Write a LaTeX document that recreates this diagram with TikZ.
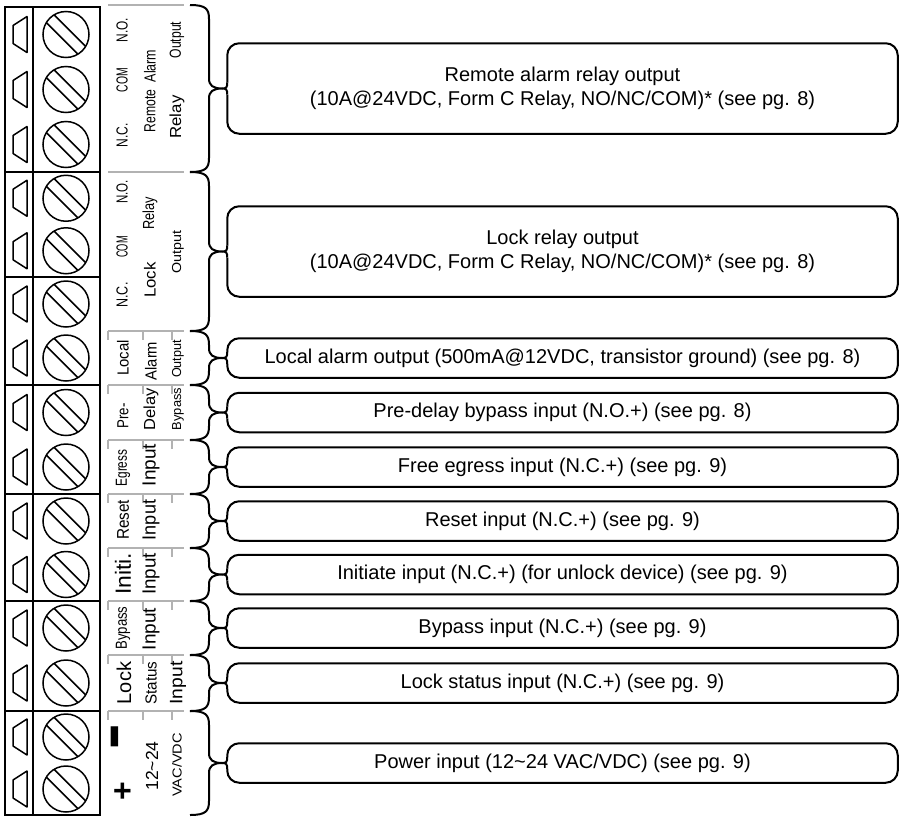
\documentclass[tikz,border=0pt]{standalone}
\usepackage{fontspec}
\setmainfont{Liberation Sans}

\begin{document}
\begin{tikzpicture}[
  x = 1pt, y = -1pt,
  line width = 1.5pt,
  lbl/.style = {rotate=90, inner sep=0pt, font=\fontsize{#1}{#1}\selectfont},
  lbl/.default = 16,
  desc/.style = {minimum width=669pt, inner sep=0pt, align=center,
    font=\fontsize{20}{24}\selectfont},
  outline/.style = {line width=2pt, rounded corners=12pt},
  graysep/.style = {gray!60, line width=1.2pt}]
\useasboundingbox (0,0) rectangle (905,817);

% terminal block
\draw[line width=2pt] (5,7) rectangle (100,815);
\draw (33,7) -- (33,815);
\foreach \y in {172,277,385,494,601,711}
  \draw[line width=2pt] (5,\y) -- (100,\y);
\foreach \c in {34.5,89.5,144.5,198.25,250.75,304,358,412.5,467,521,574.5,628,683,737,789} {
  \draw[line join=round] (27,\c-18) -- (13,\c-9) -- (13,\c+9) -- (27,\c+18) -- cycle;
  \draw (66,\c) circle (23pt);
  \draw (66,\c) ++(19.67,11.92) -- ++(-31.59,-31.59);
  \draw (66,\c) ++(11.92,19.67) -- ++(-31.59,-31.59);
}

% label column
\foreach \y in {5,172,331,385,440,494,548,601,655,711}
  \draw[graysep] (108,\y) -- (184,\y);
\foreach \y in {331,385,440,494,548,601,655,711}
  \foreach \x in {108,143,172}
    \draw[graysep] (\x,\y) -- (\x,\y+9);

\node[lbl, xscale=0.74] (rno) at (122,30) {N.O.};
\node[lbl, xscale=0.65] (rcom) at (122,80) {COM};
\node[lbl, xscale=0.75] (rnc) at (122,135) {N.C.};
\node[lbl, xscale=0.78] (ralarm) at (150,66) {Alarm};
\node[lbl, xscale=0.76] (rremote) at (150,111) {Remote};
\node[lbl, xscale=0.76] (routput) at (177,40) {Output};
\node[lbl, xscale=1.05] (rrelay) at (177,117) {Relay};

\node[lbl, xscale=0.72] (lno) at (122,192) {N.O.};
\node[lbl, xscale=0.58] (lcom) at (122,247) {COM};
\node[lbl, xscale=0.78] (lnc) at (122,295) {N.C.};
\node[lbl, xscale=0.8] (lrelay) at (150,213) {Relay};
\node[lbl, xscale=1.05] (llock) at (150,280) {Lock};
\node[lbl=13, xscale=1.1] (loutput) at (178,252) {Output};

\node[lbl, xscale=0.93] (alocal) at (123,358) {Local};
\node[lbl, xscale=0.92] (aalarm) at (151,361) {Alarm};
\node[lbl=13, xscale=0.97] (aoutput) at (178,359) {Output};

\node[lbl, xscale=0.83] (dpre) at (123,416) {Pre-};
\node[lbl, xscale=1.03] (ddelay) at (151,409) {Delay};
\node[lbl=13, xscale=0.99] (dbypass) at (178,409) {Bypass};

\node[lbl, xscale=0.74] (eegress) at (123,468) {Egress};
\node[lbl=19] (einput) at (151,465) {Input};

\node[lbl=17, xscale=0.9] (sreset) at (123,520) {Reset};
\node[lbl=19, xscale=0.95] (sinput) at (151,520) {Input};

\node[lbl=22, xscale=1.04] (iiniti) at (123,574) {Initi.};
\node[lbl=19, xscale=0.99] (iinput) at (151,574) {Input};

\node[lbl, xscale=0.82] (bbypass) at (123,628) {Bypass};
\node[lbl=19] (binput) at (151,629) {Input};

\node[lbl=20] (klock) at (124,683) {Lock};
\node[lbl, xscale=0.95] (kstatus) at (151,683) {Status};
\node[lbl=18, xscale=1.07] (kinput) at (178,683) {Input};

\node[lbl=40, yscale=1.7, font=\fontsize{40}{40}\bfseries] (pminus) at (124,737) {−};
\node[lbl=32, font=\fontsize{32}{32}\bfseries] (pplus) at (124,791) {+};
\node[lbl=17.5] (prange) at (152,766) {12\textasciitilde24};
\node[lbl=13, xscale=1.12] (pvolt) at (177,765) {VAC/VDC};

% descriptions
\node[desc, minimum height=89pt] (remote) at (562.5,88.5)
  {Remote alarm relay output\\(10A@24VDC, Form C Relay, NO/NC/COM)* (see pg. 8)};
\node[desc, minimum height=89pt] (lock) at (562.5,251.5)
  {Lock relay output\\(10A@24VDC, Form C Relay, NO/NC/COM)* (see pg. 8)};
\node[desc, minimum height=38pt] (local) at (562.5,358)
  {Local alarm output (500mA@12VDC, transistor ground) (see pg. 8)};
\node[desc, minimum height=38pt] (pre) at (562.5,412.5)
  {Pre-delay bypass input (N.O.+) (see pg. 8)};
\node[desc, minimum height=38pt] (egress) at (562.5,467)
  {Free egress input (N.C.+) (see pg. 9)};
\node[desc, minimum height=38pt] (reset) at (562.5,521)
  {Reset input (N.C.+) (see pg. 9)};
\node[desc, minimum height=38pt] (initiate) at (562.5,574.5)
  {Initiate input (N.C.+) (for unlock device) (see pg. 9)};
\node[desc, minimum height=38pt] (bypass) at (562.5,628)
  {Bypass input (N.C.+) (see pg. 9)};
\node[desc, minimum height=38pt] (status) at (562.5,683)
  {Lock status input (N.C.+) (see pg. 9)};
\node[desc, minimum height=38pt] (power) at (562.5,763)
  {Power input (12\textasciitilde24 VAC/VDC) (see pg. 9)};

\foreach \n in {remote,lock,local,pre,egress,reset,initiate,bypass,status,power} {
  \coordinate (\n-tip) at ([xshift=-5pt]\n.west);
  \draw[outline] ([yshift=6pt]\n.west) -- (\n.north west) -- (\n.north east)
    -- (\n.south east) -- (\n.south west) -- ([yshift=-6pt]\n.west);
  \draw[line width=2pt] ([yshift=6pt]\n.west)
    .. controls ([yshift=1pt]\n.west) and ([xshift=-1pt]\n.west) .. (\n-tip)
    .. controls ([xshift=-1pt]\n.west) and ([yshift=-1pt]\n.west) .. ([yshift=-6pt]\n.west);
}

% braces
\foreach \t/\b/\n in {5/172/remote,172/331/lock,331/385/local,385/440/pre,440/494/egress,
    494/548/reset,548/601/initiate,601/655/bypass,655/711/status,711/815/power} {
  \pgfmathsetmacro\m{(\t+\b)/2}
  \draw[line width=2pt] (190,\t) .. controls (206,\t) and (209,\t+4) .. (209,\t+14)
    -- (209,\m-10) .. controls (209,\m-3) and (213,\m) .. (\n-tip)
    .. controls (213,\m) and (209,\m+3) .. (209,\m+10)
    -- (209,\b-14) .. controls (209,\b-4) and (206,\b) .. (190,\b);
}
\end{tikzpicture}
\end{document}
